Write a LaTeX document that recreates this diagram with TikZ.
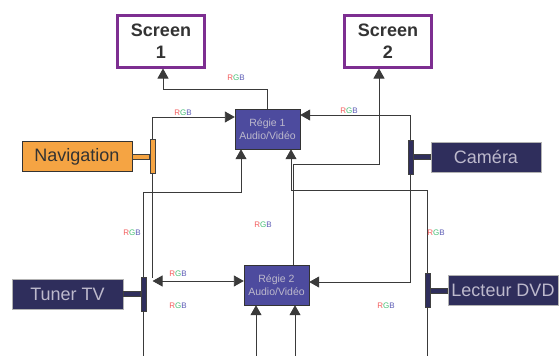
\documentclass[tikz,border=0pt]{standalone}
\usepackage{fontspec}
\setmainfont{Liberation Sans}
\usepackage{tikz}
\usetikzlibrary{positioning}
\usetikzlibrary{arrows.meta}
\definecolor{screenpurple}{HTML}{7D2E91}
\definecolor{regiefill}{HTML}{4D4B9E}
\definecolor{navyfill}{HTML}{2F2E5C}
\definecolor{navfill}{HTML}{F5A443}
\definecolor{wirecol}{HTML}{3A3A3A}
\definecolor{softtext}{HTML}{BDB9CC}
\definecolor{rgbR}{HTML}{F25C5C}
\definecolor{rgbG}{HTML}{45BF75}
\definecolor{rgbB}{HTML}{5B5BB5}
\newcommand{\rgbtag}{{\color{rgbR}R}{\color{rgbG}G}{\color{rgbB}B}}
\tikzset{
	screen/.style={
		rectangle,
		draw=screenpurple,
		line width=3pt,
		fill=white,
		align=center,
		text=black!80,
		font=\fontsize{18}{22}\selectfont\bfseries,
		minimum width=87pt,
		minimum height=52pt,
		inner sep=0pt
	},
	regie/.style={
		rectangle,
		draw=black!80,
		fill=regiefill,
		align=center,
		text=softtext,
		font=\fontsize{10.5}{13}\selectfont,
		minimum width=65pt,
		minimum height=40pt,
		inner sep=0pt
	},
	device/.style={
		rectangle,
		draw=gray!60,
		fill=navyfill,
		text=softtext,
		font=\fontsize{18}{20}\selectfont,
		minimum width=110pt,
		minimum height=30pt,
		inner sep=0pt
	},
	plugbar/.style={
		rectangle,
		draw=black!75,
		fill=navyfill,
		minimum width=5.5pt,
		minimum height=34pt,
		inner sep=0pt
	},
	plug/.style={
		rectangle,
		draw=black!75,
		fill=navyfill,
		minimum width=17pt,
		minimum height=5pt,
		inner sep=0pt
	},
	wire/.style={draw=wirecol, line width=0.9pt},
	arr/.style={wire, -{Triangle[length=10pt,width=11pt]}},
	arrboth/.style={wire, {Triangle[length=10pt,width=11pt]}-{Triangle[length=10pt,width=11pt]}},
	rgb/.style={font=\fontsize{8}{9}\selectfont, inner sep=0pt}
}
\begin{document}
\begin{tikzpicture}[x=1pt,y=-1pt]
	\useasboundingbox (0,0) rectangle (560,356);
	\node[screen] (scr1) at (161,41) {Screen\\1};
	\node[screen] (scr2) at (388,41) {Screen\\2};
	\node[regie] (reg1) at (267.5,129) {Régie 1\\Audio/Vidéo};
	\node[regie] (reg2) at (276.5,285) {Régie 2\\Audio/Vidéo};
	
	\node[device, fill=navfill, draw=black!80, text=black!80] (nav) at (77,156.5) {Navigation};
	\node[plug, fill=navfill, right=0pt of nav] (navplug) {};
	\node[plugbar, fill=navfill, right=0pt of navplug] (navbar) {};
	\node[device] (cam) at (486,157) {Caméra};
	\node[plug, left=0pt of cam] (camplug) {};
	\node[plugbar, left=0pt of camplug] (cambar) {};
	\node[device, minimum width=111pt] (tuner) at (67.5,294) {Tuner TV};
	\node[plug, right=0pt of tuner] (tunplug) {};
	\node[plugbar, right=0pt of tunplug] (tunbar) {};
	\node[device] (dvd) at (503,290.5) {Lecteur DVD};
	\node[plug, left=0pt of dvd] (dvdplug) {};
	\node[plugbar, left=0pt of dvdplug] (dvdbar) {};
	
	\coordinate (inA) at (256,356);
	\coordinate (inB) at (295,356);
	\coordinate (navend) at ([yshift=4pt]reg2.west -| navbar.south);
	
	\draw[arr] (reg1.north) -- ++(0,-19) -| ([xshift=2pt]scr1.south);
	\draw[arr] ([xshift=16.5pt]reg2.north) -- ++(0,-100) -| ([xshift=-9pt]scr2.south);
	\draw[arr] (navbar.north) |- ([yshift=12pt]reg1.west);
	\draw[arr] (cambar.north) |- ([yshift=14pt]reg1.east);
	\draw[arr] (tunbar.north) -- ++(0,-84) -| ([xshift=-26.5pt]reg1.south);
	\draw[arr] (dvdbar.north) -- ++(0,-83) -| ([xshift=23.5pt]reg1.south);
	\draw[arr] (cambar.south) |- ([yshift=3pt]reg2.east);
	\draw[wire] (navbar.south) -- ([yshift=3pt]navend);
	\draw[arrboth] (navend) -- ([yshift=4pt]reg2.west);
	\draw[arr] (inA) -- (inA |- reg2.south);
	\draw[arr] (inB) -- (inB |- reg2.south);
	\draw[wire] (tunbar.south) -- (tunbar.south |- inA);
	\draw[wire] (dvdbar.south) -- (dvdbar.south |- inA);
	
	\node[rgb] (rgbA) at (236,78) {\rgbtag};
	\node[rgb] (rgbB) at (183,113) {\rgbtag};
	\node[rgb] (rgbC) at (349,111) {\rgbtag};
	\node[rgb] (rgbD) at (132,233) {\rgbtag};
	\node[rgb] (rgbE) at (263,225) {\rgbtag};
	\node[rgb] (rgbF) at (436,233) {\rgbtag};
	\node[rgb] (rgbG) at (178,274) {\rgbtag};
	\node[rgb] (rgbH) at (178,306) {\rgbtag};
	\node[rgb] (rgbI) at (386,306) {\rgbtag};
\end{tikzpicture}
\end{document}
